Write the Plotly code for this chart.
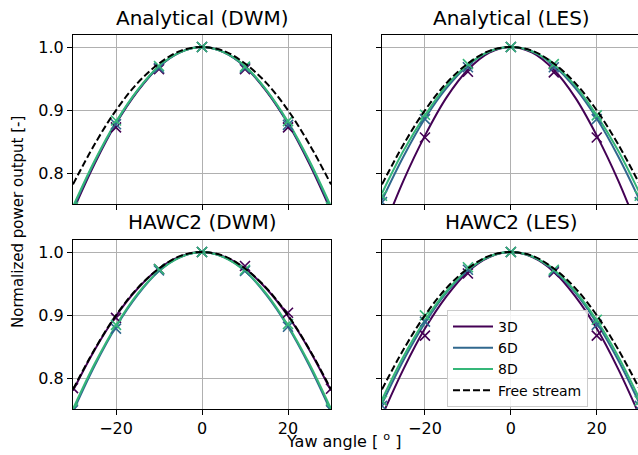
import plotly.graph_objects as go
from plotly.subplots import make_subplots

# ---------------- data ----------------
yaw_curve = [-30, -25, -20, -15, -10, -5, 0, 5, 10, 15, 20, 25, 30]
yaw_pts = [-30, -20, -10, 0, 10, 20, 30]

free_stream = [0.783, 0.846, 0.900, 0.943, 0.974, 0.994, 1.0, 0.994, 0.974, 0.943, 0.900, 0.846, 0.783]

# Analytical (DWM)
adwm_3d = [0.741, 0.815, 0.879, 0.930, 0.969, 0.992, 1.0, 0.992, 0.969, 0.930, 0.879, 0.815, 0.741]
adwm_6d = [0.745, 0.818, 0.880, 0.931, 0.969, 0.992, 1.0, 0.992, 0.969, 0.931, 0.880, 0.818, 0.745]
adwm_8d = [0.748, 0.820, 0.882, 0.932, 0.970, 0.992, 1.0, 0.992, 0.970, 0.932, 0.882, 0.820, 0.748]
adwm_3d_pts = [0.740, 0.873, 0.965, 1.0, 0.965, 0.873, 0.740]
adwm_6d_pts = [0.744, 0.878, 0.967, 1.0, 0.967, 0.877, 0.744]
adwm_8d_pts = [0.747, 0.884, 0.970, 1.0, 0.969, 0.883, 0.747]

# Analytical (LES)
ales_3d = [0.706, 0.789, 0.860, 0.920, 0.964, 0.991, 1.0, 0.991, 0.964, 0.920, 0.860, 0.789, 0.706]
ales_6d = [0.758, 0.827, 0.887, 0.935, 0.971, 0.993, 1.0, 0.993, 0.971, 0.935, 0.887, 0.827, 0.758]
ales_8d = [0.769, 0.836, 0.892, 0.939, 0.972, 0.993, 1.0, 0.993, 0.972, 0.939, 0.892, 0.836, 0.769]
ales_3d_pts = [0.700, 0.857, 0.961, 1.0, 0.960, 0.857, 0.700]
ales_6d_pts = [0.755, 0.886, 0.968, 1.0, 0.968, 0.886, 0.755]
ales_8d_pts = [0.765, 0.893, 0.973, 1.0, 0.973, 0.892, 0.765]

# HAWC2 (DWM)
hdwm_3d = [0.781, 0.845, 0.899, 0.942, 0.974, 0.993, 1.0, 0.993, 0.974, 0.942, 0.899, 0.845, 0.781]
hdwm_6d = [0.748, 0.820, 0.882, 0.932, 0.970, 0.992, 1.0, 0.992, 0.970, 0.932, 0.882, 0.820, 0.748]
hdwm_8d = [0.752, 0.823, 0.884, 0.934, 0.970, 0.992, 1.0, 0.992, 0.970, 0.934, 0.884, 0.823, 0.752]
hdwm_3d_pts = [0.785, 0.896, 0.973, 1.0, 0.978, 0.904, 0.784]
hdwm_6d_pts = [0.750, 0.879, 0.971, 1.0, 0.970, 0.882, 0.750]
hdwm_8d_pts = [0.753, 0.885, 0.973, 1.0, 0.972, 0.886, 0.753]

# HAWC2 (LES)
hles_3d = [0.741, 0.815, 0.879, 0.930, 0.969, 0.992, 1.0, 0.992, 0.969, 0.930, 0.879, 0.815, 0.741]
hles_6d = [0.760, 0.829, 0.888, 0.936, 0.971, 0.993, 1.0, 0.993, 0.971, 0.936, 0.888, 0.829, 0.760]
hles_8d = [0.767, 0.835, 0.892, 0.938, 0.972, 0.993, 1.0, 0.993, 0.972, 0.938, 0.892, 0.835, 0.767]
hles_3d_pts = [0.738, 0.868, 0.966, 1.0, 0.968, 0.868, 0.738]
hles_6d_pts = [0.757, 0.890, 0.972, 1.0, 0.970, 0.885, 0.757]
hles_8d_pts = [0.765, 0.900, 0.976, 1.0, 0.972, 0.893, 0.765]

titles = ["Analytical (DWM)", "Analytical (LES)", "HAWC2 (DWM)", "HAWC2 (LES)"]
series_names = ["3D", "6D", "8D"]
colors = ["#440154", "#31688e", "#35b779"]

panels = [
    ((1, 1), [adwm_3d, adwm_6d, adwm_8d], [adwm_3d_pts, adwm_6d_pts, adwm_8d_pts]),
    ((1, 2), [ales_3d, ales_6d, ales_8d], [ales_3d_pts, ales_6d_pts, ales_8d_pts]),
    ((2, 1), [hdwm_3d, hdwm_6d, hdwm_8d], [hdwm_3d_pts, hdwm_6d_pts, hdwm_8d_pts]),
    ((2, 2), [hles_3d, hles_6d, hles_8d], [hles_3d_pts, hles_6d_pts, hles_8d_pts]),
]

FONT = "DejaVu Sans"
W, H = 638, 455
L, R, T, B = 73, 0, 35, 46

fig = make_subplots(rows=2, cols=2)

for idx, ((r, c), curves, pts) in enumerate(panels):
    for k in range(3):
        fig.add_trace(go.Scatter(
            x=yaw_curve, y=curves[k], mode="lines", line=dict(color=colors[k], width=2, shape="spline"),
            name=series_names[k], showlegend=(idx == 3), legendgroup=series_names[k],
        ), row=r, col=c)
    for k in range(3):
        fig.add_trace(go.Scatter(
            x=yaw_pts, y=pts[k], mode="markers",
            marker=dict(symbol="x-thin", size=10, line=dict(color=colors[k], width=1.6)),
            showlegend=False, cliponaxis=True, hoverinfo="skip",
        ), row=r, col=c)
    fig.add_trace(go.Scatter(
        x=yaw_curve, y=free_stream, mode="lines",
        line=dict(color="black", width=2, dash="7px,3px", shape="spline"),
        name="Free stream", showlegend=(idx == 3), legendgroup="fs",
    ), row=r, col=c)

pw = W - L - R
ph = H - T - B
cw = 258 / pw
rh = 169 / ph
xdomains = [[0, cw], [(382 - L) / pw, 1.0]]
ydomains = [[1 - rh, 1.0], [0, rh]]

axis_common = dict(
    showline=True, linecolor="black", linewidth=1, mirror=True,
    showgrid=True, gridcolor="#b0b0b0", gridwidth=1,
    ticks="outside", ticklen=5, tickwidth=1, tickcolor="black",
    zeroline=False, tickfont=dict(family=FONT, size=16, color="black"),
)

for i, (r, c) in enumerate([(1, 1), (1, 2), (2, 1), (2, 2)]):
    xa = "xaxis" if i == 0 else f"xaxis{i+1}"
    ya = "yaxis" if i == 0 else f"yaxis{i+1}"
    xr = [-30, 30] if c == 1 else [-30, 29.6]
    fig.layout[xa].update(domain=xdomains[c - 1], range=xr, tickvals=[-20, 0, 20],
                          showticklabels=(r == 2), **axis_common)
    fig.layout[ya].update(domain=ydomains[r - 1], range=[0.752, 1.019], tickvals=[0.8, 0.9, 1.0],
                          ticktext=["0.8", "0.9", "1.0"], showticklabels=(c == 1), **axis_common)

annotations = []
title_pos = [(202, 18), (511, 18), (202, 222), (511, 222)]
for t, (px, py) in zip(titles, title_pos):
    annotations.append(dict(text=t, x=(px - L) / pw, y=(H - B - py) / ph, xref="paper", yref="paper",
                            xanchor="center", yanchor="middle", showarrow=False,
                            font=dict(family=FONT, size=20, color="black")))
annotations.append(dict(text="Normalized power output [-]", x=(18 - L) / pw, y=(H - B - 222) / ph,
                        xref="paper", yref="paper", xanchor="center", yanchor="middle", textangle=-90,
                        showarrow=False, font=dict(family=FONT, size=15, color="black")))
annotations.append(dict(text="Yaw angle [ <sup>o</sup> ]", x=(344 - L) / pw, y=(H - B - 440) / ph,
                        xref="paper", yref="paper", xanchor="center", yanchor="middle",
                        showarrow=False, font=dict(family=FONT, size=16, color="black")))

fig.update_layout(
    width=W, height=H, margin=dict(l=L, r=R, t=T, b=B),
    paper_bgcolor="white", plot_bgcolor="white",
    annotations=annotations,
    legend=dict(x=(447 - L) / pw, y=(H - B - 310) / ph, xanchor="left", yanchor="top",
                bgcolor="rgba(255,255,255,0.85)", bordercolor="#cccccc", borderwidth=1,
                font=dict(family=FONT, size=14, color="black"), itemwidth=40, tracegroupgap=0),
    font=dict(family=FONT),
    showlegend=True,
)

fig.write_html("out.html", config={"displayModeBar": False},
               post_script="document.body.style.margin='0';document.body.style.padding='0';")
